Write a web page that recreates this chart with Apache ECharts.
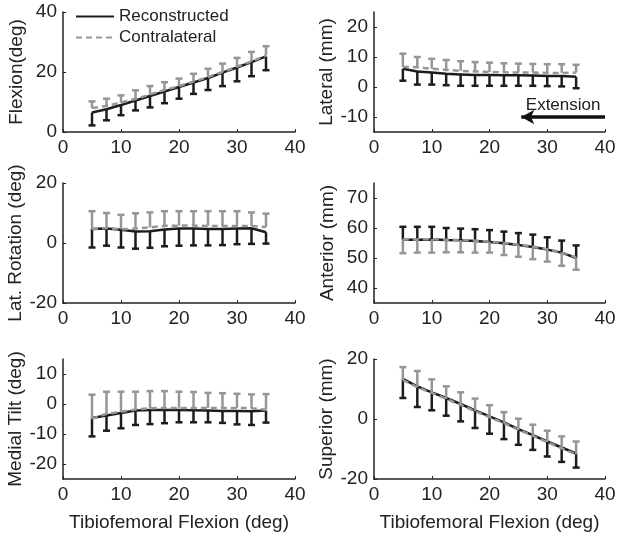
<!DOCTYPE html>
<html>
<head>
<meta charset="utf-8">
<script src="https://cdn.jsdelivr.net/npm/echarts@6/dist/echarts.min.js"></script>
<style>html,body{margin:0;padding:0;background:#fff;}#c{width:622px;height:539px;}</style>
</head>
<body>
<div id="c"></div>
<script>
const flexionAngles = [5, 7.5, 10, 12.5, 15, 17.5, 20, 22.5, 25, 27.5, 30, 32.5, 35];
const xTicks = [0, 10, 20, 30, 40];

const flexRecon = [6.5, 7.6, 9.0, 10.5, 12.0, 13.5, 15.0, 16.5, 18.0, 19.8, 21.5, 23.3, 25.2];
const flexReconEnd = [2.2, 3.9, 5.6, 7.2, 8.2, 9.6, 11.1, 12.7, 14.0, 15.3, 16.9, 18.6, 20.6];
const flexContra = [8.0, 8.7, 9.8, 11.0, 12.5, 14.0, 15.3, 16.8, 18.3, 20.0, 21.8, 23.5, 25.5];
const flexContraEnd = [10.2, 11.1, 12.2, 13.9, 15.3, 16.6, 17.8, 19.4, 21.1, 22.8, 24.7, 26.7, 28.6];

const latRecon = [6.1, 5.2, 4.8, 4.4, 4.2, 4.0, 4.0, 3.9, 3.9, 3.8, 3.7, 3.7, 3.4];
const latReconEnd = [2.1, 0.8, 0.8, 0.6, 0.4, 0.4, 0.4, 0.4, 0.4, 0.4, 0.3, 0.2, -0.4];
const latContra = [6.7, 6.6, 6.1, 5.7, 5.4, 5.2, 5.0, 4.9, 4.8, 4.8, 4.7, 4.7, 4.8];
const latContraEnd = [11.1, 10.0, 9.4, 9.0, 8.6, 8.3, 8.1, 7.9, 7.8, 7.7, 7.6, 7.6, 7.4];

const rotRecon = [4.7, 4.8, 4.4, 3.8, 3.9, 4.5, 4.8, 4.8, 4.7, 4.7, 4.8, 4.9, 3.6];
const rotReconEnd = [-1.5, -0.9, -1.5, -1.9, -1.6, -1.1, -0.9, -0.8, -0.8, -0.7, -0.4, -0.3, -0.2];
const rotContra = [4.6, 5.0, 4.6, 4.8, 5.2, 5.7, 5.8, 5.8, 5.7, 5.7, 5.7, 5.7, 5.3];
const rotContraEnd = [10.6, 10.0, 9.4, 9.9, 10.2, 10.6, 10.6, 10.6, 10.6, 10.6, 10.6, 10.2, 9.8];

const antRecon = [56.1, 56.1, 56.2, 56.0, 55.9, 55.7, 55.3, 54.9, 54.3, 53.7, 52.8, 51.8, 50.0];
const antReconEnd = [60.4, 60.4, 60.4, 60.0, 59.8, 59.6, 59.3, 58.8, 58.3, 57.8, 56.9, 55.8, 54.2];
const antContra = [56.2, 56.2, 56.3, 56.1, 56.0, 55.8, 55.4, 55.0, 54.4, 53.8, 52.9, 51.9, 50.2];
const antContraEnd = [51.6, 51.8, 51.8, 51.9, 51.9, 51.8, 51.8, 51.0, 50.4, 49.6, 48.8, 47.4, 46.1];

const tiltRecon = [-4.7, -3.8, -3.0, -2.2, -2.0, -2.0, -2.0, -2.1, -2.2, -2.3, -2.3, -2.4, -2.2];
const tiltReconEnd = [-10.8, -8.9, -8.1, -7.0, -6.7, -6.4, -6.1, -6.1, -6.1, -6.3, -6.8, -7.0, -6.2];
const tiltContra = [-4.9, -3.3, -2.6, -1.8, -1.4, -1.3, -1.3, -1.3, -1.3, -1.3, -1.3, -1.4, -1.9];
const tiltContraEnd = [3.1, 4.1, 4.1, 4.1, 4.3, 4.3, 4.1, 4.0, 3.7, 3.6, 3.4, 3.2, 3.3];

const supRecon = [13.4, 10.9, 8.9, 7.0, 5.0, 2.9, 0.9, -1.1, -3.4, -5.4, -7.5, -9.5, -11.5];
const supReconEnd = [7.0, 4.0, 2.9, 1.1, -0.8, -3.0, -4.9, -6.7, -8.6, -10.3, -12.5, -14.3, -16.2];
const supContra = [13.0, 10.6, 8.7, 6.7, 4.7, 2.6, 0.6, -1.4, -3.6, -5.6, -7.7, -9.8, -11.8];
const supContraEnd = [17.3, 16.0, 13.2, 10.9, 8.9, 6.8, 4.6, 2.3, 0.1, -1.9, -3.9, -5.8, -7.5];

const panelTitles = ['Flexion(deg)', 'Lateral (mm)', 'Lat. Rotation (deg)', 'Anterior (mm)', 'Medial Tilt (deg)', 'Superior (mm)'];
const yRanges = [[0, 40], [-15, 25], [-20, 20], [35, 75], [-25, 15], [-20, 20]];
const yTicks = [[0, 20, 40], [-10, 0, 10, 20], [-20, 0, 20], [40, 50, 60, 70], [-20, -10, 0, 10], [-20, 0, 20]];
const reconSeries = [flexRecon, latRecon, rotRecon, antRecon, tiltRecon, supRecon];
const reconEnds = [flexReconEnd, latReconEnd, rotReconEnd, antReconEnd, tiltReconEnd, supReconEnd];
const contraSeries = [flexContra, latContra, rotContra, antContra, tiltContra, supContra];
const contraEnds = [flexContraEnd, latContraEnd, rotContraEnd, antContraEnd, tiltContraEnd, supContraEnd];
const xTitle = 'Tibiofemoral Flexion (deg)';
const legendNames = ['Reconstructed', 'Contralateral'];
const arrowLabel = 'Extension';
const arrowFrom = [40, -10];
const arrowTo = [25.5, -10];

const BLACK = '#1c1c1c';
const GRAY = '#969696';
const FONT = 'Liberation Sans, Arial, sans-serif';

const chart = echarts.init(document.getElementById('c'), null, {renderer: 'canvas'});

const lefts = [63, 374];
const widths = [232, 231];
const tops = [12, 183, 359];

const grids = [], xAxes = [], yAxes = [], series = [];

function errRenderer(color) {
  return function (params, api) {
    const x = api.value(0), m = api.value(1), e = api.value(2);
    const p0 = api.coord([x, m]);
    const p1 = api.coord([x, e]);
    const hw = 3.5;
    return {
      type: 'group',
      children: [
        {type: 'line', shape: {x1: p0[0], y1: p0[1], x2: p1[0], y2: p1[1]}, style: {stroke: color, lineWidth: 2.5}},
        {type: 'line', shape: {x1: p1[0] - hw, y1: p1[1], x2: p1[0] + hw, y2: p1[1]}, style: {stroke: color, lineWidth: 2.5}}
      ]
    };
  };
}

for (let i = 0; i < 6; i++) {
  const col = i % 2, row = Math.floor(i / 2);
  grids.push({left: lefts[col], top: tops[row], width: widths[col], height: 120, containLabel: false});
  xAxes.push({
    type: 'value', gridIndex: i, min: 0, max: 40, interval: 10,
    axisLine: {show: true, onZero: false, lineStyle: {color: '#222', width: 1.5}},
    axisTick: {show: true, inside: true, length: 3, lineStyle: {color: '#222', width: 1}},
    axisLabel: {show: true, fontSize: 19, color: '#222', fontFamily: FONT, margin: 6,
      customValues: xTicks},
    splitLine: {show: false},
    name: row === 2 ? xTitle : '', nameLocation: 'middle', nameGap: 34,
    nameTextStyle: {fontSize: 19, color: '#222', fontFamily: FONT}
  });
  yAxes.push({
    type: 'value', gridIndex: i, min: yRanges[i][0], max: yRanges[i][1],
    axisLine: {show: true, onZero: false, lineStyle: {color: '#222', width: 1.5}},
    axisTick: {show: true, inside: true, length: 3, lineStyle: {color: '#222', width: 1}, customValues: yTicks[i]},
    axisLabel: {show: true, fontSize: 19, color: '#222', fontFamily: FONT, margin: 6, customValues: yTicks[i]},
    splitLine: {show: false},
    name: panelTitles[i], nameLocation: 'middle', nameRotate: 90, nameGap: 37,
    nameTextStyle: {fontSize: 19, color: '#222', fontFamily: FONT}
  });

  const rData = flexionAngles.map((x, k) => [x, reconSeries[i][k], reconEnds[i][k]]);
  const cData = flexionAngles.map((x, k) => [x, contraSeries[i][k], contraEnds[i][k]]);

  series.push({
    type: 'custom', xAxisIndex: i, yAxisIndex: i, renderItem: errRenderer(BLACK),
    data: rData, encode: {x: 0, y: [1, 2]}, z: 2, silent: true
  });
  const reconLine = {
    name: legendNames[0], type: 'line', xAxisIndex: i, yAxisIndex: i,
    data: flexionAngles.map((x, k) => [x, reconSeries[i][k]]),
    symbol: 'none', lineStyle: {color: BLACK, width: 2.5}, itemStyle: {color: BLACK}, z: 3, silent: true
  };
  if (i === 1) {
    reconLine.markLine = {
      silent: true, symbol: ['none', 'arrow'], symbolSize: [11, 13],
      lineStyle: {color: '#111', width: 3.5, type: 'solid'},
      label: {show: true, formatter: arrowLabel, position: 'middle', fontSize: 17, color: '#222', fontFamily: FONT, distance: 3},
      data: [[{coord: arrowFrom}, {coord: arrowTo}]]
    };
  }
  series.push(reconLine);
  series.push({
    type: 'custom', xAxisIndex: i, yAxisIndex: i, renderItem: errRenderer(GRAY),
    data: cData, encode: {x: 0, y: [1, 2]}, z: 4, silent: true
  });
  series.push({
    name: legendNames[1], type: 'line', xAxisIndex: i, yAxisIndex: i,
    data: flexionAngles.map((x, k) => [x, contraSeries[i][k]]),
    symbol: 'none', lineStyle: {color: GRAY, width: 2.5, type: [6, 4]}, itemStyle: {color: GRAY}, z: 5, silent: true
  });
}

chart.setOption({
  animation: false,
  backgroundColor: '#fff',
  textStyle: {fontFamily: FONT},
  legend: {
    data: legendNames, orient: 'vertical', left: 70, top: 3,
    itemWidth: 38, itemHeight: 12, itemGap: 4,
    itemStyle: {opacity: 0, borderWidth: 0},
    textStyle: {fontSize: 17, color: '#222', fontFamily: FONT},
    selectedMode: false
  },
  grid: grids, xAxis: xAxes, yAxis: yAxes, series: series
});
</script>
</body>
</html>
